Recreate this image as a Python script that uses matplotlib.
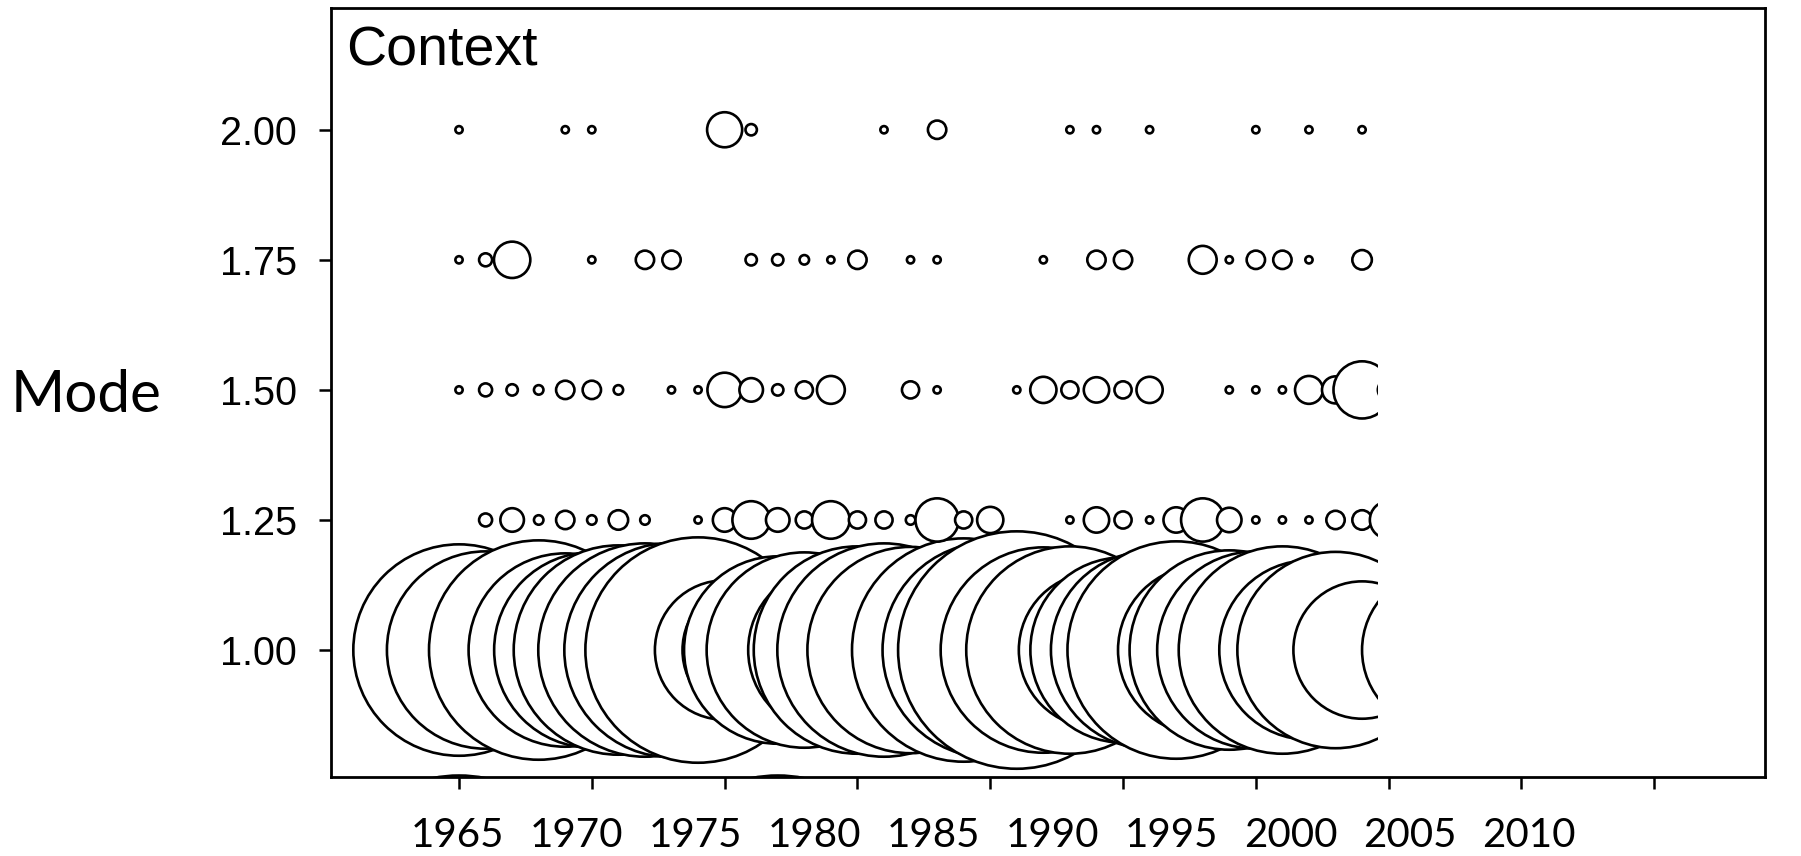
import matplotlib
matplotlib.use("Agg")
import matplotlib.pyplot as plt
import numpy as np
from matplotlib.patches import Rectangle

DPI = 100

# bubble data: year, mode value, count (bubble area ~ count)
years_050 = [1965, 1977]
counts_050 = [1510, 1510]

years_100 = list(range(1965, 2000)) + [2002]
counts_100 = [935, 816, 536, 1006, 784, 800, 917, 952, 961, 1061,
              412, 400, 737, 800, 576, 900, 952, 891, 536, 1042,
              970, 1176, 883, 900, 509, 721, 816, 988, 604, 833,
              816, 900, 676, 808, 400, 536]

years_125 = [1966, 1967, 1968, 1969, 1970, 1971, 1972, 1974, 1975, 1976,
             1977, 1978, 1979, 1980, 1981, 1982, 1983, 1984, 1985, 1988,
             1989, 1990, 1991, 1992, 1993, 1994, 1995, 1996, 1997, 1998,
             1999, 2000]
counts_125 = [5, 14, 3, 9, 3, 10, 3, 2, 14, 33,
              14, 8, 33, 8, 8, 3, 43, 8, 17, 2,
              16, 8, 2, 16, 43, 15, 2, 2, 2, 9,
              10, 33]

years_150 = [1965, 1966, 1967, 1968, 1969, 1970, 1971, 1973, 1974, 1975,
             1976, 1977, 1978, 1979, 1982, 1983, 1986, 1987, 1988, 1989,
             1990, 1991, 1994, 1995, 1996, 1997, 1998, 1999, 2000]
counts_150 = [2, 5, 4, 3, 9, 9, 3, 2, 2, 28,
              14, 4, 8, 19, 8, 2, 2, 17, 8, 16,
              8, 17, 2, 2, 2, 19, 18, 73, 12]

years_175 = [1965, 1966, 1967, 1970, 1972, 1973, 1976, 1977, 1978, 1979,
             1980, 1982, 1983, 1987, 1989, 1990, 1993, 1994, 1995, 1996,
             1997, 1999]
counts_175 = [2, 5, 31, 2, 9, 9, 4, 4, 3, 2,
              9, 2, 2, 2, 9, 9, 19, 2, 9, 9,
              2, 10]

years_200 = [1965, 1969, 1970, 1975, 1976, 1981, 1983, 1988, 1989, 1991,
             1995, 1997, 1999]
counts_200 = [2, 2, 2, 29, 4, 2, 9, 2, 2, 2, 2, 2, 2]

rows = [(0.50, years_050, counts_050),
        (1.00, years_100, counts_100),
        (1.25, years_125, counts_125),
        (1.50, years_150, counts_150),
        (1.75, years_175, counts_175),
        (2.00, years_200, counts_200)]

x_ticks = list(range(1965, 2011, 5))
y_ticks = [1.00, 1.25, 1.50, 1.75, 2.00]

LW = 1.9  # bubble outline, points


def bubble_area(counts):
    r_px = 3.5 * np.sqrt(np.asarray(counts, float)) - LW * DPI / 144.0
    return (2 * r_px * 72.0 / DPI) ** 2


fig = plt.figure(figsize=(18.01, 8.56), dpi=DPI)
ax = fig.add_axes([331 / 1801, 79 / 856, 1434 / 1801, 769 / 856])
ax.set_xlim(1960.18, 2014.17)
ax.set_ylim(0.756, 2.234)

# plotted area stops just short of 2000
clip = Rectangle((1960.18, 0.756), 1999.6 - 1960.18, 2.234 - 0.756,
                 transform=ax.transData, fill=False, visible=False)
ax.add_patch(clip)

for z, (mode, yrs, cnt) in enumerate(rows):
    sc = ax.scatter(yrs, [mode] * len(yrs), s=bubble_area(cnt),
                    facecolors="white", edgecolors="black",
                    linewidths=LW, zorder=2 + z)
    sc.set_clip_path(clip)

for side in ["left", "right", "top", "bottom"]:
    ax.spines[side].set_linewidth(2.0)

ax.set_xticks(x_ticks)
ax.set_xticklabels([])
ax.tick_params(axis="x", length=8.6, width=1.8, direction="out")

ax.set_yticks(y_ticks)
ax.set_yticklabels(["%.2f" % v for v in y_ticks], fontsize=28.5,
                   family="Liberation Sans")
ax.tick_params(axis="y", length=8.6, width=1.8, direction="out", pad=16)

# year labels sit on a slightly compressed scale compared with the ticks
STEP = 0.8968
SHIFT = -0.075


def to_label(x):
    return 1965 + (np.asarray(x) - 1965 - SHIFT) / STEP


def from_label(v):
    return 1965 + (np.asarray(v) - 1965) * STEP + SHIFT


sec = ax.secondary_xaxis("bottom", functions=(to_label, from_label))
sec.set_xticks(x_ticks)
sec.set_xticklabels([str(v) for v in x_ticks], fontsize=29, family="Lato")
sec.tick_params(length=0, pad=29)
sec.spines["bottom"].set_visible(False)

fig.text(346 / 1801, 1 - 65 / 856, "Context", ha="left", va="baseline",
         fontsize=40, family="Liberation Sans")
fig.text(86 / 1801, 1 - 396 / 856, "Mode", ha="center", va="center",
         fontsize=42, family="Lato")

fig.savefig("out.png", dpi=DPI)
